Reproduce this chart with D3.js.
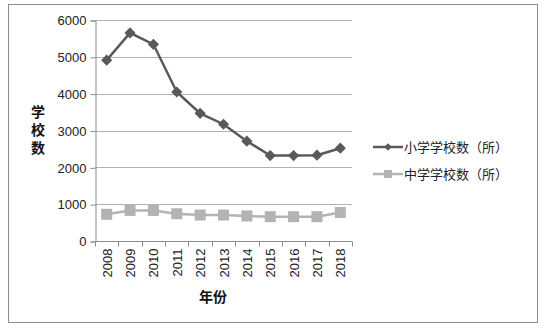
<!DOCTYPE html>
<html>
<head>
<meta charset="utf-8">
<script src="https://cdn.jsdelivr.net/npm/d3@7"></script>
<style>
  body { margin: 0; background: #fff; }
  text { font-family: "Liberation Sans", Arial, sans-serif; }
  .cjk { font-family: "Noto Sans CJK SC", sans-serif; }
</style>
</head>
<body>
<div id="chart"></div>
<script>
var years = ["2008","2009","2010","2011","2012","2013","2014","2015","2016","2017","2018"];
var primary = [4910, 5650, 5340, 4045, 3465, 3170, 2710, 2320, 2320, 2330, 2520];
var middle = [725, 830, 830, 740, 705, 705, 680, 660, 660, 660, 775];
var seriesNames = ["小学学校数（所）", "中学学校数（所）"];
var yTicks = [0, 1000, 2000, 3000, 4000, 5000, 6000];

var W = 548, H = 329;
var margin = { top: 20, left: 95, bottom: 88, right: 196 };

var svg = d3.select("#chart").append("svg")
    .attr("width", W)
    .attr("height", H);

// outer frame
svg.append("rect")
    .attr("x", 8.5).attr("y", 4.5)
    .attr("width", 529).attr("height", 318)
    .attr("fill", "none")
    .attr("stroke", "#8c8c8c");

var x = d3.scaleBand()
    .domain(years)
    .range([margin.left, W - margin.right]);

var y = d3.scaleLinear()
    .domain([0, 6000])
    .range([H - margin.bottom, margin.top]);

// gridlines
svg.append("g").selectAll("line")
    .data(yTicks.slice(1))
    .enter().append("line")
    .attr("x1", margin.left).attr("x2", W - margin.right)
    .attr("y1", function(d) { return Math.round(y(d)) + 0.5; })
    .attr("y2", function(d) { return Math.round(y(d)) + 0.5; })
    .attr("stroke", "#b3b3b3");

// y axis
var yAxis = svg.append("g")
    .attr("transform", "translate(" + (margin.left + 0.5) + ",0.5)")
    .call(d3.axisLeft(y).tickValues(yTicks).tickFormat(d3.format("d"))
        .tickSize(5).tickPadding(4));
yAxis.select(".domain").attr("stroke", "#8c8c8c");
yAxis.selectAll(".tick line").attr("stroke", "#8c8c8c");
yAxis.selectAll(".tick text").attr("font-size", 13).attr("fill", "#222");

// x axis, ticks at band boundaries
var xAxisG = svg.append("g")
    .attr("transform", "translate(0," + (Math.round(y(0)) + 0.5) + ")");
xAxisG.append("line")
    .attr("x1", margin.left).attr("x2", W - margin.right)
    .attr("stroke", "#8c8c8c");
xAxisG.selectAll("line.tk")
    .data(years.concat(["end"]))
    .enter().append("line")
    .attr("class", "tk")
    .attr("x1", function(d, i) { return Math.round(margin.left + i * x.step()) + 0.5; })
    .attr("x2", function(d, i) { return Math.round(margin.left + i * x.step()) + 0.5; })
    .attr("y1", 0).attr("y2", 5)
    .attr("stroke", "#8c8c8c");
xAxisG.selectAll("text")
    .data(years)
    .enter().append("text")
    .attr("transform", function(d) {
        return "translate(" + (x(d) + x.bandwidth() / 2 + 5) + ",7) rotate(-90)";
    })
    .attr("text-anchor", "end")
    .attr("font-size", 13)
    .attr("fill", "#222")
    .text(function(d) { return d; });

// axis titles (y title set vertically, one glyph per row)
svg.append("text")
    .attr("class", "cjk")
    .attr("x", 38)
    .attr("y", 105)
    .attr("writing-mode", "vertical-rl")
    .attr("letter-spacing", 4)
    .attr("font-size", 14)
    .attr("font-weight", "bold")
    .attr("fill", "#111")
    .text("学校数");

svg.append("text")
    .attr("class", "cjk")
    .attr("x", 213).attr("y", 302)
    .attr("text-anchor", "middle")
    .attr("font-size", 14)
    .attr("font-weight", "bold")
    .attr("fill", "#111")
    .text("年份");

var line = d3.line()
    .x(function(d, i) { return x(years[i]) + x.bandwidth() / 2; })
    .y(function(d) { return y(d); });

// middle school series
svg.append("path")
    .datum(middle)
    .attr("d", line)
    .attr("fill", "none")
    .attr("stroke", "#b3b3b3")
    .attr("stroke-width", 2.5);
svg.append("g").selectAll("rect")
    .data(middle)
    .enter().append("rect")
    .attr("x", function(d, i) { return x(years[i]) + x.bandwidth() / 2 - 5.5; })
    .attr("y", function(d) { return y(d) - 5.5; })
    .attr("width", 11).attr("height", 11)
    .attr("fill", "#b3b3b3");

// primary school series
svg.append("path")
    .datum(primary)
    .attr("d", line)
    .attr("fill", "none")
    .attr("stroke", "#595959")
    .attr("stroke-width", 2.5);
var diamond = d3.symbol().type(d3.symbolDiamond2).size(80);
svg.append("g").selectAll("path")
    .data(primary)
    .enter().append("path")
    .attr("d", diamond)
    .attr("transform", function(d, i) {
        return "translate(" + (x(years[i]) + x.bandwidth() / 2) + "," + y(d) + ")";
    })
    .attr("fill", "#595959");

// legend
var legend = svg.append("g");
var legRows = [
    { name: seriesNames[0], color: "#595959", shape: "diamond", y: 147 },
    { name: seriesNames[1], color: "#b3b3b3", shape: "square", y: 174 }
];
legRows.forEach(function(r) {
    legend.append("line")
        .attr("x1", 373).attr("x2", 403)
        .attr("y1", r.y).attr("y2", r.y)
        .attr("stroke", r.color).attr("stroke-width", 2.5);
    if (r.shape == "diamond") {
        legend.append("path")
            .attr("d", d3.symbol().type(d3.symbolDiamond2).size(36))
            .attr("transform", "translate(388," + r.y + ")")
            .attr("fill", r.color);
    } else {
        legend.append("rect")
            .attr("x", 384).attr("y", r.y - 4)
            .attr("width", 8).attr("height", 8)
            .attr("fill", r.color);
    }
    legend.append("text")
        .attr("class", "cjk")
        .attr("x", 404).attr("y", r.y + 5)
        .attr("font-size", 13)
        .attr("fill", "#222")
        .text(r.name);
});
</script>
</body>
</html>
